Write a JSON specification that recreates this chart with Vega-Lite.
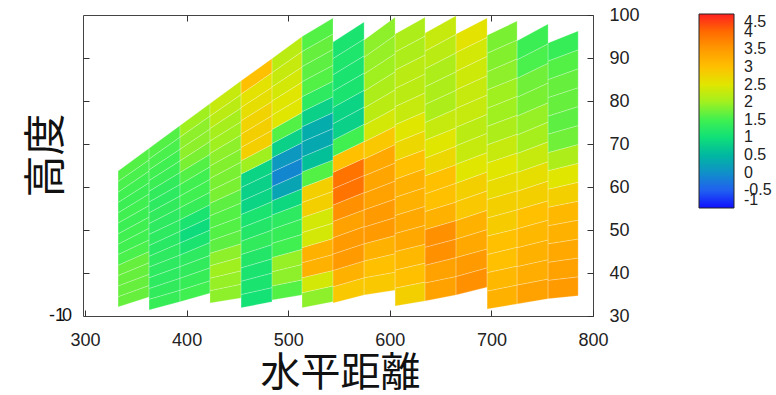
{
"$schema": "https://vega.github.io/schema/vega-lite/v6.json",
"width": 510, "height": 301,
"autosize": {"type": "none"},
"padding": {"left": 83, "top": 15, "right": 183, "bottom": 79},
"background": "white",
"config": {"view": {"stroke": "#444", "strokeWidth": 1}, "font": "Liberation Sans"},
"resolve": {"axis": {"x": "independent", "y": "independent"}},
"datasets": {
"cells": [
{"k":101,"x":[332.5,363],"y":[32.1,34.4],"y2":[34.5,37.1],"v":1.7},
{"k":102,"x":[332.5,363],"y":[34.5,37.1],"y2":[37,39.7],"v":1.7},
{"k":103,"x":[332.5,363],"y":[37,39.7],"y2":[39.4,42.4],"v":1.7},
{"k":104,"x":[332.5,363],"y":[39.4,42.4],"y2":[41.8,45],"v":1.7},
{"k":105,"x":[332.5,363],"y":[41.8,45],"y2":[44.3,47.7],"v":1.55},
{"k":106,"x":[332.5,363],"y":[44.3,47.7],"y2":[46.7,50.4],"v":1.5},
{"k":107,"x":[332.5,363],"y":[46.7,50.4],"y2":[49.1,53],"v":1.5},
{"k":108,"x":[332.5,363],"y":[49.1,53],"y2":[51.6,55.7],"v":1.45},
{"k":109,"x":[332.5,363],"y":[51.6,55.7],"y2":[54,58.4],"v":1.5},
{"k":110,"x":[332.5,363],"y":[54,58.4],"y2":[56.4,61],"v":1.45},
{"k":111,"x":[332.5,363],"y":[56.4,61],"y2":[58.8,63.7],"v":1.5},
{"k":112,"x":[332.5,363],"y":[58.8,63.7],"y2":[61.3,66.3],"v":1.55},
{"k":113,"x":[332.5,363],"y":[61.3,66.3],"y2":[63.7,69],"v":1.6},
{"k":201,"x":[363,393.5],"y":[31.4,33.3],"y2":[33.9,36],"v":1.4},
{"k":202,"x":[363,393.5],"y":[33.9,36],"y2":[36.4,38.8],"v":1.35},
{"k":203,"x":[363,393.5],"y":[36.4,38.8],"y2":[38.9,41.5],"v":1.3},
{"k":204,"x":[363,393.5],"y":[38.9,41.5],"y2":[41.4,44.2],"v":1.3},
{"k":205,"x":[363,393.5],"y":[41.4,44.2],"y2":[43.9,47],"v":1.3},
{"k":206,"x":[363,393.5],"y":[43.9,47],"y2":[46.4,49.7],"v":1.25},
{"k":207,"x":[363,393.5],"y":[46.4,49.7],"y2":[49,52.4],"v":1.3},
{"k":208,"x":[363,393.5],"y":[49,52.4],"y2":[51.5,55.2],"v":1.3},
{"k":209,"x":[363,393.5],"y":[51.5,55.2],"y2":[54,57.9],"v":1.35},
{"k":210,"x":[363,393.5],"y":[54,57.9],"y2":[56.5,60.6],"v":1.3},
{"k":211,"x":[363,393.5],"y":[56.5,60.6],"y2":[59,63.4],"v":1.35},
{"k":212,"x":[363,393.5],"y":[59,63.4],"y2":[61.5,66.1],"v":1.45},
{"k":213,"x":[363,393.5],"y":[61.5,66.1],"y2":[64,68.8],"v":1.5},
{"k":214,"x":[363,393.5],"y":[64,68.8],"y2":[66.5,71.6],"v":1.55},
{"k":215,"x":[363,393.5],"y":[66.5,71.6],"y2":[69,74.3],"v":1.6},
{"k":301,"x":[393.5,423],"y":[33.3,35.3],"y2":[36,38.2],"v":1.5},
{"k":302,"x":[393.5,423],"y":[36,38.2],"y2":[38.8,41.2],"v":1.4},
{"k":303,"x":[393.5,423],"y":[38.8,41.2],"y2":[41.5,44.1],"v":1.35},
{"k":304,"x":[393.5,423],"y":[41.5,44.1],"y2":[44.2,47.1],"v":1.3},
{"k":305,"x":[393.5,423],"y":[44.2,47.1],"y2":[47,50],"v":1.1},
{"k":306,"x":[393.5,423],"y":[47,50],"y2":[49.7,52.9],"v":0.95},
{"k":307,"x":[393.5,423],"y":[49.7,52.9],"y2":[52.4,55.9],"v":1.1},
{"k":308,"x":[393.5,423],"y":[52.4,55.9],"y2":[55.2,58.8],"v":1.4},
{"k":309,"x":[393.5,423],"y":[55.2,58.8],"y2":[57.9,61.8],"v":1.5},
{"k":310,"x":[393.5,423],"y":[57.9,61.8],"y2":[60.6,64.7],"v":1.5},
{"k":311,"x":[393.5,423],"y":[60.6,64.7],"y2":[63.4,67.6],"v":1.6},
{"k":312,"x":[393.5,423],"y":[63.4,67.6],"y2":[66.1,70.6],"v":1.8},
{"k":313,"x":[393.5,423],"y":[66.1,70.6],"y2":[68.8,73.5],"v":1.9},
{"k":314,"x":[393.5,423],"y":[68.8,73.5],"y2":[71.6,76.5],"v":1.9},
{"k":315,"x":[393.5,423],"y":[71.6,76.5],"y2":[74.3,79.4],"v":2.0},
{"k":401,"x":[423,453.6],"y":[33,34.2],"y2":[35.9,37.4],"v":1.9},
{"k":402,"x":[423,453.6],"y":[35.9,37.4],"y2":[38.8,40.5],"v":1.95},
{"k":403,"x":[423,453.6],"y":[38.8,40.5],"y2":[41.7,43.7],"v":2.0},
{"k":404,"x":[423,453.6],"y":[41.7,43.7],"y2":[44.6,46.8],"v":1.9},
{"k":405,"x":[423,453.6],"y":[44.6,46.8],"y2":[47.5,50],"v":1.65},
{"k":406,"x":[423,453.6],"y":[47.5,50],"y2":[50.4,53.1],"v":1.6},
{"k":407,"x":[423,453.6],"y":[50.4,53.1],"y2":[53.3,56.3],"v":1.6},
{"k":408,"x":[423,453.6],"y":[53.3,56.3],"y2":[56.2,59.5],"v":1.65},
{"k":409,"x":[423,453.6],"y":[56.2,59.5],"y2":[59.1,62.6],"v":1.8},
{"k":410,"x":[423,453.6],"y":[59.1,62.6],"y2":[62,65.8],"v":1.8},
{"k":411,"x":[423,453.6],"y":[62,65.8],"y2":[64.9,68.9],"v":1.85},
{"k":412,"x":[423,453.6],"y":[64.9,68.9],"y2":[67.8,72.1],"v":1.9},
{"k":413,"x":[423,453.6],"y":[67.8,72.1],"y2":[70.7,75.2],"v":2.0},
{"k":414,"x":[423,453.6],"y":[70.7,75.2],"y2":[73.6,78.4],"v":2.05},
{"k":415,"x":[423,453.6],"y":[73.6,78.4],"y2":[76.5,81.5],"v":2.2},
{"k":416,"x":[423,453.6],"y":[76.5,81.5],"y2":[79.4,84.7],"v":2.3},
{"k":501,"x":[453.6,484.1],"y":[31.9,33.3],"y2":[35,36.6],"v":1.05},
{"k":502,"x":[453.6,484.1],"y":[35,36.6],"y2":[38.1,40],"v":1.1},
{"k":503,"x":[453.6,484.1],"y":[38.1,40],"y2":[41.2,43.3],"v":1.1},
{"k":504,"x":[453.6,484.1],"y":[41.2,43.3],"y2":[44.3,46.6],"v":1.2},
{"k":505,"x":[453.6,484.1],"y":[44.3,46.6],"y2":[47.4,50],"v":1.35},
{"k":506,"x":[453.6,484.1],"y":[47.4,50],"y2":[50.5,53.3],"v":1.2},
{"k":507,"x":[453.6,484.1],"y":[50.5,53.3],"y2":[53.6,56.6],"v":1.1},
{"k":508,"x":[453.6,484.1],"y":[53.6,56.6],"y2":[56.7,59.9],"v":0.85},
{"k":509,"x":[453.6,484.1],"y":[56.7,59.9],"y2":[59.9,63.3],"v":0.8},
{"k":510,"x":[453.6,484.1],"y":[59.9,63.3],"y2":[63,66.6],"v":0.85},
{"k":511,"x":[453.6,484.1],"y":[63,66.6],"y2":[66.1,69.9],"v":2.0},
{"k":512,"x":[453.6,484.1],"y":[66.1,69.9],"y2":[69.2,73.2],"v":2.8},
{"k":513,"x":[453.6,484.1],"y":[69.2,73.2],"y2":[72.3,76.6],"v":2.8},
{"k":514,"x":[453.6,484.1],"y":[72.3,76.6],"y2":[75.4,79.9],"v":2.75},
{"k":515,"x":[453.6,484.1],"y":[75.4,79.9],"y2":[78.5,83.2],"v":2.6},
{"k":516,"x":[453.6,484.1],"y":[78.5,83.2],"y2":[81.6,86.6],"v":2.55},
{"k":517,"x":[453.6,484.1],"y":[81.6,86.6],"y2":[84.7,89.9],"v":3.0},
{"k":601,"x":[484.1,513.6],"y":[33.7,34.9],"y2":[37,38.4],"v":1.6},
{"k":602,"x":[484.1,513.6],"y":[37,38.4],"y2":[40.3,42],"v":1.9},
{"k":603,"x":[484.1,513.6],"y":[40.3,42],"y2":[43.6,45.5],"v":1.95},
{"k":604,"x":[484.1,513.6],"y":[43.6,45.5],"y2":[46.9,49],"v":1.5},
{"k":605,"x":[484.1,513.6],"y":[46.9,49],"y2":[50.2,52.6],"v":1.4},
{"k":606,"x":[484.1,513.6],"y":[50.2,52.6],"y2":[53.5,56.1],"v":1.3},
{"k":607,"x":[484.1,513.6],"y":[53.5,56.1],"y2":[56.8,59.6],"v":0.9},
{"k":608,"x":[484.1,513.6],"y":[56.8,59.6],"y2":[60.1,63.2],"v":0.25},
{"k":609,"x":[484.1,513.6],"y":[60.1,63.2],"y2":[63.5,66.7],"v":-0.1},
{"k":610,"x":[484.1,513.6],"y":[63.5,66.7],"y2":[66.8,70.3],"v":0.1},
{"k":611,"x":[484.1,513.6],"y":[66.8,70.3],"y2":[70.1,73.8],"v":0.8},
{"k":612,"x":[484.1,513.6],"y":[70.1,73.8],"y2":[73.4,77.3],"v":1.6},
{"k":613,"x":[484.1,513.6],"y":[73.4,77.3],"y2":[76.7,80.9],"v":2.5},
{"k":614,"x":[484.1,513.6],"y":[76.7,80.9],"y2":[80,84.4],"v":2.5},
{"k":615,"x":[484.1,513.6],"y":[80,84.4],"y2":[83.3,87.9],"v":2.4},
{"k":616,"x":[484.1,513.6],"y":[83.3,87.9],"y2":[86.6,91.5],"v":2.3},
{"k":617,"x":[484.1,513.6],"y":[86.6,91.5],"y2":[89.9,95],"v":2.2},
{"k":701,"x":[513.6,544.1],"y":[31.9,33.3],"y2":[35.4,37],"v":1.9},
{"k":702,"x":[513.6,544.1],"y":[35.4,37],"y2":[38.9,40.6],"v":2.4},
{"k":703,"x":[513.6,544.1],"y":[38.9,40.6],"y2":[42.4,44.3],"v":3.2},
{"k":704,"x":[513.6,544.1],"y":[42.4,44.3],"y2":[45.9,48],"v":3.2},
{"k":705,"x":[513.6,544.1],"y":[45.9,48],"y2":[49.4,51.6],"v":2.4},
{"k":706,"x":[513.6,544.1],"y":[49.4,51.6],"y2":[52.9,55.3],"v":2.4},
{"k":707,"x":[513.6,544.1],"y":[52.9,55.3],"y2":[56.4,59],"v":2.8},
{"k":708,"x":[513.6,544.1],"y":[56.4,59],"y2":[59.9,62.6],"v":2.8},
{"k":709,"x":[513.6,544.1],"y":[59.9,62.6],"y2":[63.5,66.3],"v":1.6},
{"k":710,"x":[513.6,544.1],"y":[63.5,66.3],"y2":[67,70],"v":0.6},
{"k":711,"x":[513.6,544.1],"y":[67,70],"y2":[70.5,73.6],"v":0.3},
{"k":712,"x":[513.6,544.1],"y":[70.5,73.6],"y2":[74,77.3],"v":0.35},
{"k":713,"x":[513.6,544.1],"y":[74,77.3],"y2":[77.5,81],"v":0.8},
{"k":714,"x":[513.6,544.1],"y":[77.5,81],"y2":[81,84.6],"v":1.3},
{"k":715,"x":[513.6,544.1],"y":[81,84.6],"y2":[84.5,88.3],"v":1.6},
{"k":716,"x":[513.6,544.1],"y":[84.5,88.3],"y2":[88,92],"v":1.65},
{"k":717,"x":[513.6,544.1],"y":[88,92],"y2":[91.5,95.6],"v":1.7},
{"k":718,"x":[513.6,544.1],"y":[91.5,95.6],"y2":[95,99.3],"v":1.6},
{"k":801,"x":[544.1,574.7],"y":[33,34.9],"y2":[36.8,38.9],"v":2.9},
{"k":802,"x":[544.1,574.7],"y":[36.8,38.9],"y2":[40.6,42.8],"v":3.2},
{"k":803,"x":[544.1,574.7],"y":[40.6,42.8],"y2":[44.4,46.8],"v":3.5},
{"k":804,"x":[544.1,574.7],"y":[44.4,46.8],"y2":[48.2,50.8],"v":3.5},
{"k":805,"x":[544.1,574.7],"y":[48.2,50.8],"y2":[52,54.7],"v":3.4},
{"k":806,"x":[544.1,574.7],"y":[52,54.7],"y2":[55.8,58.7],"v":3.6},
{"k":807,"x":[544.1,574.7],"y":[55.8,58.7],"y2":[59.6,62.7],"v":3.9},
{"k":808,"x":[544.1,574.7],"y":[59.6,62.7],"y2":[63.4,66.7],"v":3.9},
{"k":809,"x":[544.1,574.7],"y":[63.4,66.7],"y2":[67.1,70.6],"v":3.0},
{"k":810,"x":[544.1,574.7],"y":[67.1,70.6],"y2":[70.9,74.6],"v":1.5},
{"k":811,"x":[544.1,574.7],"y":[70.9,74.6],"y2":[74.7,78.6],"v":0.8},
{"k":812,"x":[544.1,574.7],"y":[74.7,78.6],"y2":[78.5,82.5],"v":0.85},
{"k":813,"x":[544.1,574.7],"y":[78.5,82.5],"y2":[82.3,86.5],"v":1.1},
{"k":814,"x":[544.1,574.7],"y":[82.3,86.5],"y2":[86.1,90.5],"v":1.1},
{"k":815,"x":[544.1,574.7],"y":[86.1,90.5],"y2":[89.9,94.4],"v":1.15},
{"k":816,"x":[544.1,574.7],"y":[89.9,94.4],"y2":[93.7,98.4],"v":1.1},
{"k":901,"x":[574.7,605.2],"y":[34.9,36],"y2":[38.9,40.2],"v":2.9},
{"k":902,"x":[574.7,605.2],"y":[38.9,40.2],"y2":[42.8,44.5],"v":3.0},
{"k":903,"x":[574.7,605.2],"y":[42.8,44.5],"y2":[46.8,48.7],"v":3.2},
{"k":904,"x":[574.7,605.2],"y":[46.8,48.7],"y2":[50.7,52.9],"v":3.5},
{"k":905,"x":[574.7,605.2],"y":[50.7,52.9],"y2":[54.7,57.2],"v":3.5},
{"k":906,"x":[574.7,605.2],"y":[54.7,57.2],"y2":[58.6,61.4],"v":3.4},
{"k":907,"x":[574.7,605.2],"y":[58.6,61.4],"y2":[62.6,65.6],"v":3.35},
{"k":908,"x":[574.7,605.2],"y":[62.6,65.6],"y2":[66.5,69.9],"v":3.3},
{"k":909,"x":[574.7,605.2],"y":[66.5,69.9],"y2":[70.5,74.1],"v":2.9},
{"k":910,"x":[574.7,605.2],"y":[70.5,74.1],"y2":[74.4,78.3],"v":2.4},
{"k":911,"x":[574.7,605.2],"y":[74.4,78.3],"y2":[78.4,82.6],"v":2.2},
{"k":912,"x":[574.7,605.2],"y":[78.4,82.6],"y2":[82.3,86.8],"v":2.1},
{"k":913,"x":[574.7,605.2],"y":[82.3,86.8],"y2":[86.3,91],"v":2.0},
{"k":914,"x":[574.7,605.2],"y":[86.3,91],"y2":[90.2,95.3],"v":1.95},
{"k":915,"x":[574.7,605.2],"y":[90.2,95.3],"y2":[94.2,99.5],"v":1.9},
{"k":1001,"x":[605.2,634.7],"y":[32.3,33.5],"y2":[36.5,37.9],"v":2.8},
{"k":1002,"x":[605.2,634.7],"y":[36.5,37.9],"y2":[40.7,42.3],"v":3.0},
{"k":1003,"x":[605.2,634.7],"y":[40.7,42.3],"y2":[45,46.7],"v":3.1},
{"k":1004,"x":[605.2,634.7],"y":[45,46.7],"y2":[49.2,51.1],"v":3.3},
{"k":1005,"x":[605.2,634.7],"y":[49.2,51.1],"y2":[53.4,55.5],"v":3.3},
{"k":1006,"x":[605.2,634.7],"y":[53.4,55.5],"y2":[57.6,59.9],"v":3.2},
{"k":1007,"x":[605.2,634.7],"y":[57.6,59.9],"y2":[61.8,64.3],"v":3.2},
{"k":1008,"x":[605.2,634.7],"y":[61.8,64.3],"y2":[66.1,68.7],"v":3.0},
{"k":1009,"x":[605.2,634.7],"y":[66.1,68.7],"y2":[70.3,73.1],"v":2.7},
{"k":1010,"x":[605.2,634.7],"y":[70.3,73.1],"y2":[74.5,77.5],"v":2.5},
{"k":1011,"x":[605.2,634.7],"y":[74.5,77.5],"y2":[78.7,81.9],"v":2.3},
{"k":1012,"x":[605.2,634.7],"y":[78.7,81.9],"y2":[82.9,86.3],"v":2.2},
{"k":1013,"x":[605.2,634.7],"y":[82.9,86.3],"y2":[87.2,90.7],"v":2.2},
{"k":1014,"x":[605.2,634.7],"y":[87.2,90.7],"y2":[91.4,95.1],"v":2.1},
{"k":1015,"x":[605.2,634.7],"y":[91.4,95.1],"y2":[95.6,99.5],"v":2.1},
{"k":1101,"x":[634.7,665.2],"y":[33.5,34.9],"y2":[37.7,39.2],"v":3.4},
{"k":1102,"x":[634.7,665.2],"y":[37.7,39.2],"y2":[41.8,43.6],"v":3.4},
{"k":1103,"x":[634.7,665.2],"y":[41.8,43.6],"y2":[46,47.9],"v":3.6},
{"k":1104,"x":[634.7,665.2],"y":[46,47.9],"y2":[50.1,52.2],"v":3.6},
{"k":1105,"x":[634.7,665.2],"y":[50.1,52.2],"y2":[54.3,56.5],"v":3.2},
{"k":1106,"x":[634.7,665.2],"y":[54.3,56.5],"y2":[58.4,60.9],"v":3.0},
{"k":1107,"x":[634.7,665.2],"y":[58.4,60.9],"y2":[62.6,65.2],"v":3.0},
{"k":1108,"x":[634.7,665.2],"y":[62.6,65.2],"y2":[66.7,69.5],"v":2.7},
{"k":1109,"x":[634.7,665.2],"y":[66.7,69.5],"y2":[70.9,73.8],"v":2.5},
{"k":1110,"x":[634.7,665.2],"y":[70.9,73.8],"y2":[75,78.2],"v":2.3},
{"k":1111,"x":[634.7,665.2],"y":[75,78.2],"y2":[79.2,82.5],"v":2.1},
{"k":1112,"x":[634.7,665.2],"y":[79.2,82.5],"y2":[83.3,86.8],"v":2.1},
{"k":1113,"x":[634.7,665.2],"y":[83.3,86.8],"y2":[87.5,91.2],"v":2.1},
{"k":1114,"x":[634.7,665.2],"y":[87.5,91.2],"y2":[91.6,95.5],"v":2.2},
{"k":1115,"x":[634.7,665.2],"y":[91.6,95.5],"y2":[95.8,99.8],"v":2.3},
{"k":1201,"x":[665.2,695.8],"y":[34.9,36.7],"y2":[39.2,41.2],"v":3.6},
{"k":1202,"x":[665.2,695.8],"y":[39.2,41.2],"y2":[43.6,45.6],"v":3.5},
{"k":1203,"x":[665.2,695.8],"y":[43.6,45.6],"y2":[47.9,50.1],"v":3.3},
{"k":1204,"x":[665.2,695.8],"y":[47.9,50.1],"y2":[52.2,54.6],"v":3.2},
{"k":1205,"x":[665.2,695.8],"y":[52.2,54.6],"y2":[56.6,59.1],"v":2.9},
{"k":1206,"x":[665.2,695.8],"y":[56.6,59.1],"y2":[60.9,63.5],"v":2.8},
{"k":1207,"x":[665.2,695.8],"y":[60.9,63.5],"y2":[65.3,68],"v":2.5},
{"k":1208,"x":[665.2,695.8],"y":[65.3,68],"y2":[69.6,72.5],"v":2.3},
{"k":1209,"x":[665.2,695.8],"y":[69.6,72.5],"y2":[73.9,76.9],"v":2.2},
{"k":1210,"x":[665.2,695.8],"y":[73.9,76.9],"y2":[78.3,81.4],"v":2.3},
{"k":1211,"x":[665.2,695.8],"y":[78.3,81.4],"y2":[82.6,85.9],"v":2.3},
{"k":1212,"x":[665.2,695.8],"y":[82.6,85.9],"y2":[86.9,90.4],"v":2.35},
{"k":1213,"x":[665.2,695.8],"y":[86.9,90.4],"y2":[91.3,94.8],"v":2.4},
{"k":1214,"x":[665.2,695.8],"y":[91.3,94.8],"y2":[95.6,99.3],"v":2.55},
{"k":1301,"x":[695.8,725.3],"y":[31.6,32.8],"y2":[35.8,37.2],"v":3.2},
{"k":1302,"x":[695.8,725.3],"y":[35.8,37.2],"y2":[40.1,41.6],"v":3.1},
{"k":1303,"x":[695.8,725.3],"y":[40.1,41.6],"y2":[44.3,46],"v":3.0},
{"k":1304,"x":[695.8,725.3],"y":[44.3,46],"y2":[48.6,50.3],"v":3.0},
{"k":1305,"x":[695.8,725.3],"y":[48.6,50.3],"y2":[52.8,54.7],"v":2.85},
{"k":1306,"x":[695.8,725.3],"y":[52.8,54.7],"y2":[57.1,59.1],"v":2.8},
{"k":1307,"x":[695.8,725.3],"y":[57.1,59.1],"y2":[61.3,63.5],"v":2.65},
{"k":1308,"x":[695.8,725.3],"y":[61.3,63.5],"y2":[65.6,67.9],"v":2.5},
{"k":1309,"x":[695.8,725.3],"y":[65.6,67.9],"y2":[69.8,72.3],"v":2.3},
{"k":1310,"x":[695.8,725.3],"y":[69.8,72.3],"y2":[74.1,76.7],"v":2.1},
{"k":1311,"x":[695.8,725.3],"y":[74.1,76.7],"y2":[78.3,81.1],"v":2.0},
{"k":1312,"x":[695.8,725.3],"y":[78.3,81.1],"y2":[82.6,85.4],"v":2.0},
{"k":1313,"x":[695.8,725.3],"y":[82.6,85.4],"y2":[86.8,89.8],"v":1.9},
{"k":1314,"x":[695.8,725.3],"y":[86.8,89.8],"y2":[91.1,94.2],"v":1.85},
{"k":1315,"x":[695.8,725.3],"y":[91.1,94.2],"y2":[95.3,98.6],"v":1.8},
{"k":1401,"x":[725.3,755.8],"y":[32.8,34],"y2":[37.2,38.6],"v":3.4},
{"k":1402,"x":[725.3,755.8],"y":[37.2,38.6],"y2":[41.5,43.1],"v":3.25},
{"k":1403,"x":[725.3,755.8],"y":[41.5,43.1],"y2":[45.9,47.7],"v":3.2},
{"k":1404,"x":[725.3,755.8],"y":[45.9,47.7],"y2":[50.3,52.3],"v":3.1},
{"k":1405,"x":[725.3,755.8],"y":[50.3,52.3],"y2":[54.7,56.8],"v":3.0},
{"k":1406,"x":[725.3,755.8],"y":[54.7,56.8],"y2":[59,61.4],"v":2.8},
{"k":1407,"x":[725.3,755.8],"y":[59,61.4],"y2":[63.4,65.9],"v":2.6},
{"k":1408,"x":[725.3,755.8],"y":[63.4,65.9],"y2":[67.8,70.5],"v":2.3},
{"k":1409,"x":[725.3,755.8],"y":[67.8,70.5],"y2":[72.1,75.1],"v":2.05},
{"k":1410,"x":[725.3,755.8],"y":[72.1,75.1],"y2":[76.5,79.6],"v":1.95},
{"k":1411,"x":[725.3,755.8],"y":[76.5,79.6],"y2":[80.9,84.2],"v":1.8},
{"k":1412,"x":[725.3,755.8],"y":[80.9,84.2],"y2":[85.3,88.8],"v":1.75},
{"k":1413,"x":[725.3,755.8],"y":[85.3,88.8],"y2":[89.6,93.3],"v":1.55},
{"k":1414,"x":[725.3,755.8],"y":[89.6,93.3],"y2":[94,97.9],"v":1.45},
{"k":1501,"x":[755.8,785.4],"y":[34,34.7],"y2":[38.3,39.1],"v":3.5},
{"k":1502,"x":[755.8,785.4],"y":[38.3,39.1],"y2":[42.5,43.5],"v":3.4},
{"k":1503,"x":[755.8,785.4],"y":[42.5,43.5],"y2":[46.8,47.9],"v":3.3},
{"k":1504,"x":[755.8,785.4],"y":[46.8,47.9],"y2":[51,52.3],"v":3.2},
{"k":1505,"x":[755.8,785.4],"y":[51,52.3],"y2":[55.3,56.7],"v":3.1},
{"k":1506,"x":[755.8,785.4],"y":[55.3,56.7],"y2":[59.5,61.1],"v":2.8},
{"k":1507,"x":[755.8,785.4],"y":[59.5,61.1],"y2":[63.8,65.5],"v":2.5},
{"k":1508,"x":[755.8,785.4],"y":[63.8,65.5],"y2":[68,69.9],"v":2.1},
{"k":1509,"x":[755.8,785.4],"y":[68,69.9],"y2":[72.3,74.3],"v":1.75},
{"k":1510,"x":[755.8,785.4],"y":[72.3,74.3],"y2":[76.5,78.7],"v":1.65},
{"k":1511,"x":[755.8,785.4],"y":[76.5,78.7],"y2":[80.8,83.1],"v":1.7},
{"k":1512,"x":[755.8,785.4],"y":[80.8,83.1],"y2":[85,87.5],"v":1.7},
{"k":1513,"x":[755.8,785.4],"y":[85,87.5],"y2":[89.3,91.9],"v":1.6},
{"k":1514,"x":[755.8,785.4],"y":[89.3,91.9],"y2":[93.5,96.3],"v":1.4}
],
"marks": [
{"x": 280.3, "y": 30, "t": "-1"},
{"x": 287.2, "y": 30, "t": "0"}
]
},
"layer": [
{
"data": {"name": "cells"},
"transform": [{"flatten": ["x", "y", "y2"]}],
"mark": {"type": "area", "opacity": 1, "stroke": "#ffffff", "strokeWidth": 0.6, "strokeOpacity": 0.4},
"encoding": {
"x": {"field": "x", "type": "quantitative", "scale": {"domain": [298, 800], "nice": false, "zero": false},
"axis": {"orient": "bottom", "values": [300, 400, 500, 600, 700, 800], "tickSize": -6, "labelPadding": 21, "labelFlush": false, "labelOverlap": false, "domain": false, "grid": false, "labelFontSize": 18, "labelColor": "#222", "tickColor": "#333", "title": "水平距離", "titleFont": "Noto Sans CJK JP", "titleFontSize": 40, "titleFontWeight": "normal", "titleColor": "#111", "titleX": 257, "titleY": 57, "titleAlign": "center", "titleBaseline": "middle"}},
"y": {"field": "y", "type": "quantitative", "scale": {"domain": [30, 100], "nice": false, "zero": false},
"axis": {"orient": "right", "values": [30, 40, 50, 60, 70, 80, 90, 100], "tickSize": -6, "labelPadding": 22, "labelOverlap": false, "domain": false, "grid": false, "labelFontSize": 18, "labelColor": "#222", "tickColor": "#333", "title": null}},
"y2": {"field": "y2"},
"detail": {"field": "k", "type": "nominal"},
"color": {"field": "v", "type": "quantitative",
"scale": {"domain": [-1, -0.5, 0, 0.5, 1, 1.5, 2, 2.5, 3, 3.5, 4, 4.5], "range": ["#1010ff", "#2060f0", "#1090c8", "#00b8a0", "#10e078", "#40f050", "#a0f020", "#e0e600", "#ffc000", "#ff9a00", "#ff6a00", "#ff2020"], "interpolate": "rgb"},
"legend": {"orient": "none", "legendX": 616, "legendY": -1, "direction": "vertical", "gradientLength": 194, "gradientThickness": 35, "title": null, "values": [-1, -0.5, 0, 0.5, 1, 1.5, 2, 2.5, 3, 3.5, 4, 4.5], "labelExpr": "'' + datum.value", "labelFontSize": 16, "labelFont": "Liberation Sans", "labelColor": "#222", "labelOverlap": false, "labelFlush": false, "labelOffset": 10, "gradientStrokeColor": "#222", "gradientStrokeWidth": 1}}
}
},
{
"data": {"name": "marks"},
"mark": {"type": "text", "align": "right", "baseline": "middle", "fontSize": 18, "color": "#111"},
"encoding": {
"x": {"field": "x", "type": "quantitative", "axis": {"orient": "top", "values": [400, 500, 600, 700], "tickSize": -6, "labels": false, "domain": false, "grid": false, "title": null, "tickColor": "#333"}},
"y": {"field": "y", "type": "quantitative", "axis": {"orient": "left", "values": [40, 50, 60, 70, 80, 90], "tickSize": -6, "labels": false, "domain": false, "grid": false, "tickColor": "#333", "title": "高度", "titleFont": "Noto Sans CJK JP", "titleFontSize": 42, "titleFontWeight": "normal", "titleColor": "#111", "titleX": -37, "titleY": 140, "titleAlign": "center", "titleBaseline": "middle", "titleAngle": -90}},
"text": {"field": "t"}
}
}
]
}
